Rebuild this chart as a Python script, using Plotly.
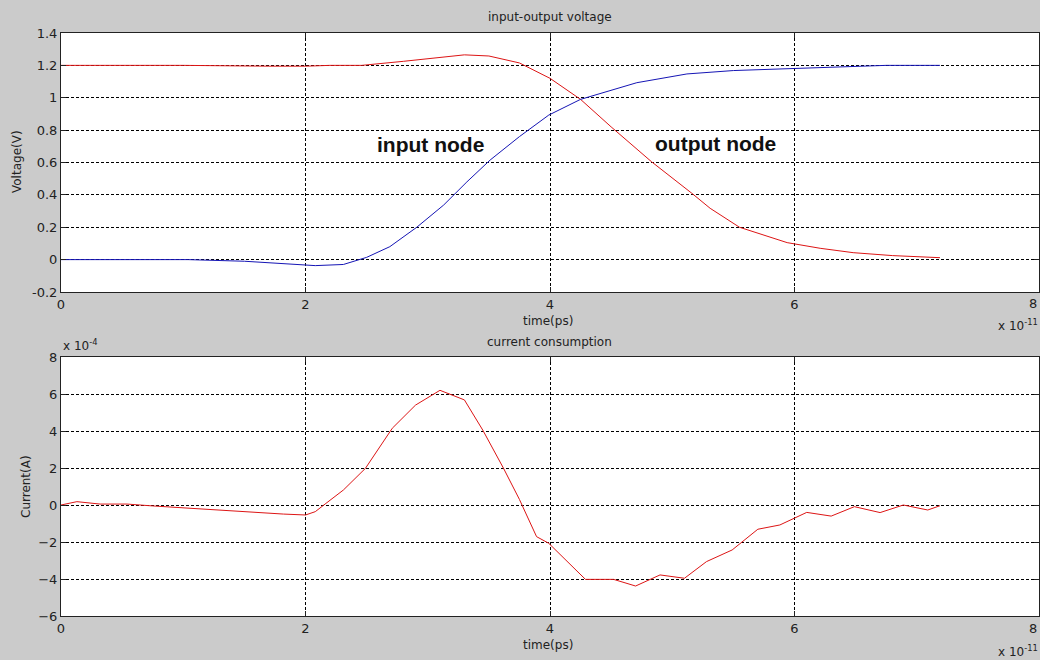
import plotly.graph_objects as go

# time in units of 1e-11 s
t_out = [0, 1.0, 1.7, 2.0, 2.2, 2.46, 2.8, 3.1, 3.3, 3.5, 3.75, 4.0, 4.25, 4.5, 4.83,
         5.16, 5.31, 5.55, 5.94, 6.21, 6.48, 6.8, 7.19]
v_out = [1.2, 1.2, 1.195, 1.195, 1.2, 1.2, 1.225, 1.25, 1.265, 1.258, 1.215, 1.12, 0.99,
         0.82, 0.605, 0.41, 0.317, 0.20, 0.105, 0.07, 0.043, 0.025, 0.012]

t_in = [0, 1.04, 1.5, 1.8, 2.08, 2.31, 2.5, 2.69, 2.91, 3.13, 3.32, 3.51, 3.75, 3.99,
        4.25, 4.71, 5.12, 5.5, 5.99, 6.4, 6.75, 7.19]
v_in = [0, 0, -0.01, -0.025, -0.037, -0.03, 0.014, 0.08, 0.2, 0.337, 0.48, 0.615, 0.76,
        0.893, 0.99, 1.093, 1.147, 1.168, 1.182, 1.19, 1.2, 1.2]

# current in units of 1e-4 A
t_i = [0, 0.13, 0.32, 0.54, 0.75, 1.14, 1.55, 1.82, 2.0, 2.08, 2.16, 2.31, 2.49, 2.71,
       2.9, 3.1, 3.3, 3.45, 3.62, 3.75, 3.89, 3.99, 4.29, 4.52, 4.7, 4.9, 5.1, 5.28, 5.49,
       5.7, 5.88, 6.1, 6.3, 6.49, 6.7, 6.89, 7.09, 7.19]
i_val = [0, 0.18, 0.05, 0.05, -0.05, -0.22, -0.36, -0.49, -0.54, -0.36, 0.05, 0.81, 1.98,
         4.15, 5.4, 6.2, 5.68, 4.05, 1.98, 0.3, -1.71, -2.07, -4.02, -4.02, -4.38, -3.78,
         -3.96, -3.06, -2.43, -1.31, -1.08, -0.40, -0.6, -0.09, -0.41, 0.0, -0.27, -0.04]

x_ticks = [0, 2, 4, 6]
x_last_tick = "8"
v_ticks = [-0.2, 0, 0.2, 0.4, 0.6, 0.8, 1, 1.2, 1.4]
v_tick_text = ["-0.2", "0", "0.2", "0.4", "0.6", "0.8", "1", "1.2", "1.4"]
i_ticks = [-6, -4, -2, 0, 2, 4, 6, 8]

FONT = "DejaVu Sans, sans-serif"
BOLD_FONT = "Liberation Sans, Arial, sans-serif"
BG = "#cbcbcb"
TXT = "#222"

fig = go.Figure()
fig.add_trace(go.Scatter(x=t_out, y=v_out, mode="lines", line=dict(color="#dd1515", width=1),
                         xaxis="x", yaxis="y", showlegend=False))
fig.add_trace(go.Scatter(x=t_in, y=v_in, mode="lines", line=dict(color="#1515b5", width=1),
                         xaxis="x", yaxis="y", showlegend=False))
fig.add_trace(go.Scatter(x=t_i, y=i_val, mode="lines", line=dict(color="#dd1515", width=1),
                         xaxis="x2", yaxis="y2", showlegend=False))

W, H = 1040, 660
L, R = 61, 1039
x_dom = [L / W, R / W]
top_dom = [1 - 292 / H, 1 - 33 / H]
bot_dom = [1 - 616 / H, 1 - 357 / H]

axis_common = dict(
    showline=True, linecolor=TXT, linewidth=1, mirror="ticks",
    ticks="inside", ticklen=5, tickcolor=TXT,
    showgrid=True, gridcolor="#000", gridwidth=1, griddash="3px,2px",
    zeroline=False, tickfont=dict(family=FONT, size=13, color=TXT),
)

fig.update_layout(
    width=W, height=H,
    paper_bgcolor=BG, plot_bgcolor="white",
    margin=dict(l=0, r=0, t=0, b=0, autoexpand=False),
    font=dict(family=FONT, size=12, color=TXT),
    xaxis=dict(domain=x_dom, anchor="y", range=[0, 8], tickvals=x_ticks, **axis_common),
    yaxis=dict(domain=top_dom, anchor="x", range=[-0.2, 1.4], tickvals=v_ticks,
               ticktext=v_tick_text, **axis_common),
    xaxis2=dict(domain=x_dom, anchor="y2", range=[0, 8], tickvals=x_ticks, **axis_common),
    yaxis2=dict(domain=bot_dom, anchor="x2", range=[-6, 8], tickvals=i_ticks, **axis_common),
)


def px_x(p):
    return p / W


def px_y(p):
    return 1 - p / H


def txt(text, x, y, size=12, xanchor="center", angle=0, xref="paper", yref="paper",
        color=TXT, family=FONT):
    return dict(text=text, x=x, y=y, xref=xref, yref=yref, xanchor=xanchor, yanchor="middle",
                textangle=angle, showarrow=False,
                font=dict(family=family, size=size, color=color))


annotations = [
    txt("input-output voltage", px_x(550), px_y(17)),
    txt("time(ps)", px_x(548), px_y(321)),
    txt("current consumption", px_x(549), px_y(342)),
    txt("time(ps)", px_x(548), px_y(645)),
    txt("Voltage(V)", px_x(17), px_y(162), angle=-90),
    txt("Current(A)", px_x(26), px_y(487), angle=-90),
    txt(x_last_tick, px_x(1039), px_y(303), size=13, xanchor="right"),
    txt(x_last_tick, px_x(1039), px_y(628), size=13, xanchor="right"),
    txt("x 10<sup>-11</sup>", px_x(996), px_y(325), xanchor="left"),
    txt("x 10<sup>-11</sup>", px_x(996), px_y(651), xanchor="left"),
    txt("x 10<sup>-4</sup>", px_x(61), px_y(345), xanchor="left"),
    txt("<b>input node</b>", 3.02, 0.71, size=21, xref="x", yref="y", color="#111",
        family=BOLD_FONT),
    txt("<b>output node</b>", 5.35, 0.72, size=21, xref="x", yref="y", color="#111",
        family=BOLD_FONT),
]
fig.update_layout(annotations=annotations)

fig.write_html("out.html", config={"displayModeBar": False},
               post_script="document.body.style.margin='0';document.body.style.overflow='hidden';")
